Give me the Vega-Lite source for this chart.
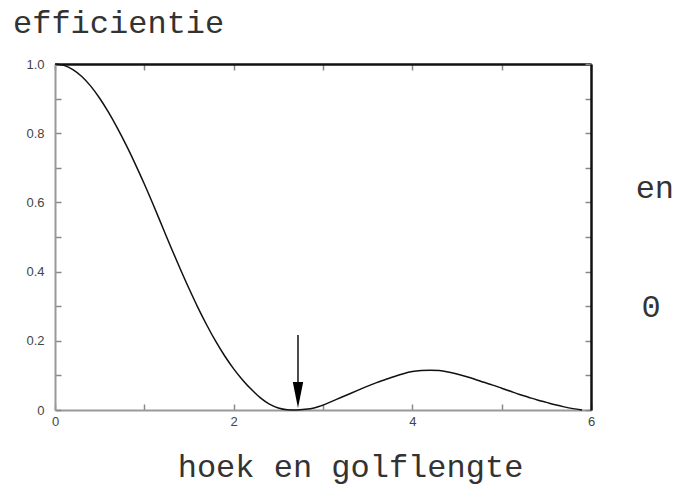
{
  "$schema": "https://vega.github.io/schema/vega-lite/v6.json",
  "autosize": "none",
  "width": 536,
  "height": 346,
  "padding": {"left": 55, "top": 64, "right": 95, "bottom": 76},
  "background": "white",
  "config": {"view": {"stroke": null}},
  "title": {
    "text": "efficientie",
    "anchor": "start",
    "frame": "group",
    "dx": -42,
    "dy": 38,
    "offset": 31,
    "baseline": "alphabetic",
    "font": "Liberation Mono",
    "fontSize": 32,
    "fontWeight": "normal",
    "color": "#333333"
  },
  "datasets": {
    "curve": [
      {"hoek": 0.0, "eff": 1.0},
      {"hoek": 0.1, "eff": 0.996},
      {"hoek": 0.2, "eff": 0.984},
      {"hoek": 0.3, "eff": 0.964},
      {"hoek": 0.4, "eff": 0.936},
      {"hoek": 0.5, "eff": 0.901},
      {"hoek": 0.6, "eff": 0.86},
      {"hoek": 0.7, "eff": 0.814},
      {"hoek": 0.8, "eff": 0.764},
      {"hoek": 0.9, "eff": 0.71},
      {"hoek": 1.0, "eff": 0.653},
      {"hoek": 1.1, "eff": 0.593},
      {"hoek": 1.2, "eff": 0.531},
      {"hoek": 1.3, "eff": 0.469},
      {"hoek": 1.4, "eff": 0.409},
      {"hoek": 1.5, "eff": 0.351},
      {"hoek": 1.6, "eff": 0.296},
      {"hoek": 1.7, "eff": 0.245},
      {"hoek": 1.8, "eff": 0.198},
      {"hoek": 1.9, "eff": 0.156},
      {"hoek": 2.0, "eff": 0.119},
      {"hoek": 2.1, "eff": 0.087},
      {"hoek": 2.2, "eff": 0.059},
      {"hoek": 2.3, "eff": 0.035},
      {"hoek": 2.4, "eff": 0.017},
      {"hoek": 2.5, "eff": 0.006},
      {"hoek": 2.6, "eff": 0.001},
      {"hoek": 2.7, "eff": 0.0},
      {"hoek": 2.8, "eff": 0.002},
      {"hoek": 2.9, "eff": 0.006},
      {"hoek": 3.0, "eff": 0.014},
      {"hoek": 3.1, "eff": 0.025},
      {"hoek": 3.2, "eff": 0.036},
      {"hoek": 3.3, "eff": 0.047},
      {"hoek": 3.4, "eff": 0.058},
      {"hoek": 3.5, "eff": 0.069},
      {"hoek": 3.6, "eff": 0.079},
      {"hoek": 3.7, "eff": 0.088},
      {"hoek": 3.8, "eff": 0.097},
      {"hoek": 3.9, "eff": 0.105},
      {"hoek": 4.0, "eff": 0.111},
      {"hoek": 4.1, "eff": 0.114},
      {"hoek": 4.2, "eff": 0.115},
      {"hoek": 4.3, "eff": 0.114},
      {"hoek": 4.4, "eff": 0.11},
      {"hoek": 4.5, "eff": 0.104},
      {"hoek": 4.6, "eff": 0.097},
      {"hoek": 4.7, "eff": 0.089},
      {"hoek": 4.8, "eff": 0.08},
      {"hoek": 4.9, "eff": 0.072},
      {"hoek": 5.0, "eff": 0.063},
      {"hoek": 5.1, "eff": 0.054},
      {"hoek": 5.2, "eff": 0.045},
      {"hoek": 5.3, "eff": 0.037},
      {"hoek": 5.4, "eff": 0.029},
      {"hoek": 5.5, "eff": 0.022},
      {"hoek": 5.6, "eff": 0.015},
      {"hoek": 5.7, "eff": 0.009},
      {"hoek": 5.8, "eff": 0.004},
      {"hoek": 5.9, "eff": 0.0}
    ],
    "arrow": [
      {"hoek": 2.72, "top": 0.217, "bottom": 0.081, "head": 0.043}
    ],
    "labels": [
      {"hoek": 6.5, "eff": 0.613, "tekst": "en"},
      {"hoek": 6.565, "eff": 0.269, "tekst": "0"}
    ]
  },
  "resolve": {"axis": {"x": "independent", "y": "independent"}},
  "layer": [
    {
      "data": {"name": "curve"},
      "mark": {"type": "line", "interpolate": "monotone", "color": "#111111", "strokeWidth": 1.5, "clip": false},
      "encoding": {
        "x": {
          "field": "hoek", "type": "quantitative",
          "scale": {"domain": [0, 6], "nice": false, "zero": false},
          "axis": {
            "orient": "bottom",
            "values": [0, 1, 2, 3, 4, 5, 6],
            "labelExpr": "datum.value % 2 == 0 ? datum.label : ''",
            "format": "d",
            "grid": false,
            "tickSize": -6,
            "tickWidth": 1.5,
            "tickColor": "#888888",
            "domainColor": "#999999",
            "domainWidth": 2,
            "labelPadding": 11,
            "labelFont": "Liberation Sans",
            "labelFontSize": 13,
            "labelColor": "#444444",
            "labelFlush": false,
            "title": "hoek en golflengte",
            "titleFont": "Liberation Mono",
            "titleFontSize": 32,
            "titleFontWeight": "normal",
            "titleColor": "#333333",
            "titleX": 295,
            "titleY": 66,
            "titleAlign": "center",
            "titleBaseline": "alphabetic"
          }
        },
        "y": {
          "field": "eff", "type": "quantitative",
          "scale": {"domain": [0, 1], "nice": false, "zero": false},
          "axis": {
            "orient": "left",
            "values": [0, 0.1, 0.2, 0.3, 0.4, 0.5, 0.6, 0.7, 0.8, 0.9, 1.0],
            "labelExpr": "datum.value == 0 ? '0' : (round(datum.value * 10) % 2 == 0 ? format(datum.value, '.1f') : '')",
            "grid": false,
            "tickSize": -6,
            "tickWidth": 1.5,
            "tickColor": "#888888",
            "domainColor": "#999999",
            "domainWidth": 2,
            "labelPadding": 17,
            "labelFont": "Liberation Sans",
            "labelFontSize": 13,
            "labelColor": "#444444",
            "labelFlush": false,
            "title": null
          }
        }
      }
    },
    {
      "data": {"name": "arrow"},
      "mark": {"type": "rule", "color": "#111111", "strokeWidth": 1.5},
      "encoding": {
        "x": {
          "field": "hoek", "type": "quantitative",
          "axis": {
            "orient": "top",
            "values": [0, 1, 2, 3, 4, 5, 6],
            "labels": false,
            "grid": false,
            "tickSize": -6,
            "tickWidth": 1.5,
            "tickColor": "#888888",
            "domainColor": "#111111",
            "domainWidth": 2.5,
            "title": null
          }
        },
        "y": {
          "field": "top", "type": "quantitative",
          "axis": {
            "orient": "right",
            "values": [0, 0.1, 0.2, 0.3, 0.4, 0.5, 0.6, 0.7, 0.8, 0.9, 1.0],
            "labels": false,
            "grid": false,
            "tickSize": -6,
            "tickWidth": 1.5,
            "tickColor": "#888888",
            "domainColor": "#111111",
            "domainWidth": 2.5,
            "title": null
          }
        },
        "y2": {"field": "bottom"}
      }
    },
    {
      "data": {"name": "arrow"},
      "mark": {"type": "point", "shape": "M-0.4,-1L0.4,-1L0,1Z", "filled": true, "color": "#000000", "size": 676, "opacity": 1, "strokeWidth": 0},
      "encoding": {
        "x": {"field": "hoek", "type": "quantitative", "axis": null},
        "y": {"field": "head", "type": "quantitative", "axis": null}
      }
    },
    {
      "data": {"name": "labels"},
      "mark": {"type": "text", "align": "left", "baseline": "alphabetic", "font": "Liberation Mono", "fontSize": 32, "color": "#333333", "clip": false},
      "encoding": {
        "x": {"field": "hoek", "type": "quantitative", "axis": null},
        "y": {"field": "eff", "type": "quantitative", "axis": null},
        "text": {"field": "tekst"}
      }
    }
  ]
}
